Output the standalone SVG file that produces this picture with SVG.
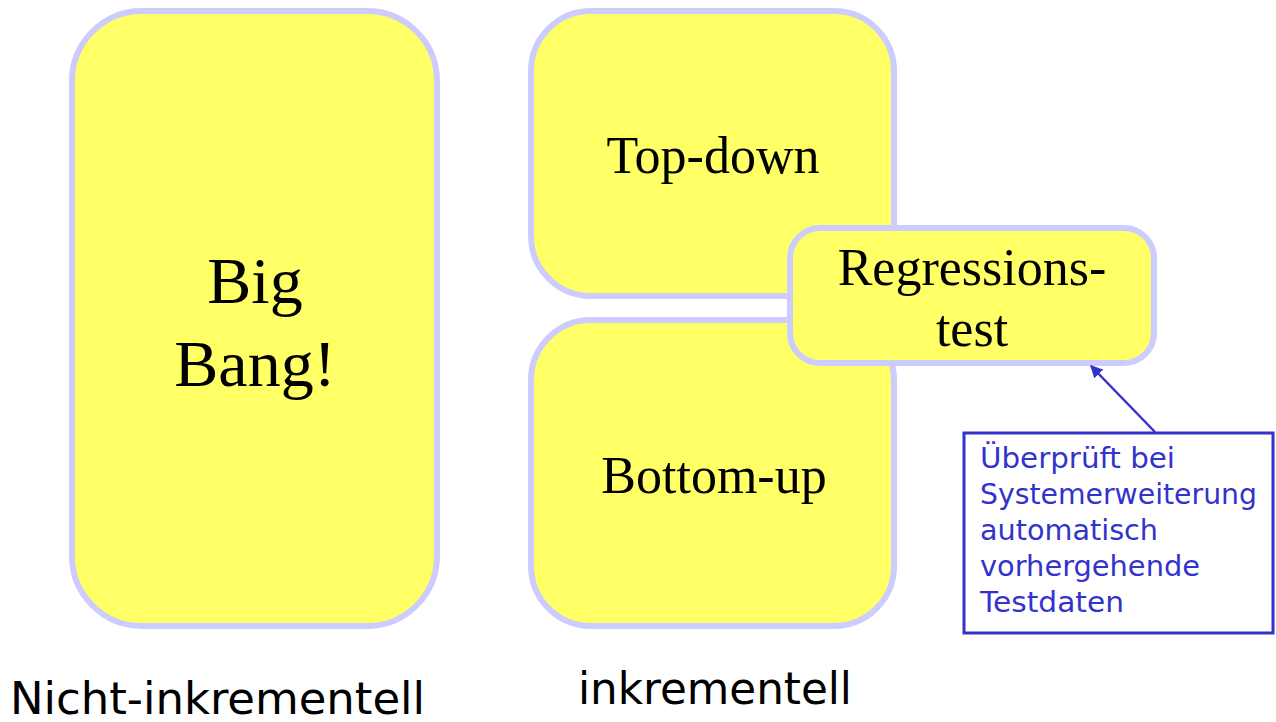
<svg xmlns="http://www.w3.org/2000/svg" width="1276" height="722" viewBox="0 0 1276 722">
<style>
.box{fill:#ffff66;stroke:#ccccff;stroke-width:6}
.serif{font-family:"Liberation Serif","Times New Roman",serif;fill:#000;text-anchor:middle}
.note{font-family:"DejaVu Sans","Noto Sans",sans-serif;font-size:28px;fill:#3333cc}
.lbl{font-family:"DejaVu Sans Condensed","DejaVu Sans","Liberation Sans",sans-serif;font-size:44px;fill:#000}
</style>
<defs>
<marker id="ah" viewBox="0 0 10 10" refX="9" refY="5" markerWidth="5" markerHeight="5" orient="auto">
<path d="M0,0 L10,5 L0,10 z" fill="#3333cc"/>
</marker>
</defs>
<rect width="1276" height="722" fill="#fff"/>
<g id="bigbang">
<rect class="box" x="72" y="11" width="365" height="615" rx="70"/>
<text class="serif" font-size="66" x="255" y="303">Big</text>
<text class="serif" font-size="66" x="255" y="386">Bang!</text>
</g>
<g id="topdown">
<rect class="box" x="531" y="11" width="363" height="285" rx="60"/>
<text class="serif" font-size="52" x="713" y="173">Top-down</text>
</g>
<g id="bottomup">
<rect class="box" x="531" y="320" width="363" height="306" rx="60"/>
<text class="serif" font-size="52" x="714" y="493">Bottom-up</text>
</g>
<g id="regression">
<rect class="box" x="790" y="228" width="364" height="135" rx="30"/>
<text class="serif" font-size="52" x="972" y="285">Regressions-</text>
<text class="serif" font-size="52" x="972" y="346">test</text>
</g>
<g id="connectors">
<line x1="1155" y1="432" x2="1091" y2="366" stroke="#3333cc" stroke-width="2.5" marker-end="url(#ah)"/>
</g>
<g id="note">
<rect x="964" y="433" width="309" height="200" fill="#fff" stroke="#3333cc" stroke-width="3"/>
<text class="note" x="980" y="468" textLength="195" lengthAdjust="spacingAndGlyphs">Überprüft bei</text>
<text class="note" x="980" y="504" textLength="277" lengthAdjust="spacingAndGlyphs">Systemerweiterung</text>
<text class="note" x="980" y="540" textLength="178" lengthAdjust="spacingAndGlyphs">automatisch</text>
<text class="note" x="980" y="576" textLength="220" lengthAdjust="spacingAndGlyphs">vorhergehende</text>
<text class="note" x="980" y="612" textLength="144" lengthAdjust="spacingAndGlyphs">Testdaten</text>
</g>
<g id="labels">
<text class="lbl" x="10" y="714" textLength="415" lengthAdjust="spacingAndGlyphs">Nicht-inkrementell</text>
<text class="lbl" x="578" y="704" textLength="274" lengthAdjust="spacingAndGlyphs">inkrementell</text>
</g>
</svg>
